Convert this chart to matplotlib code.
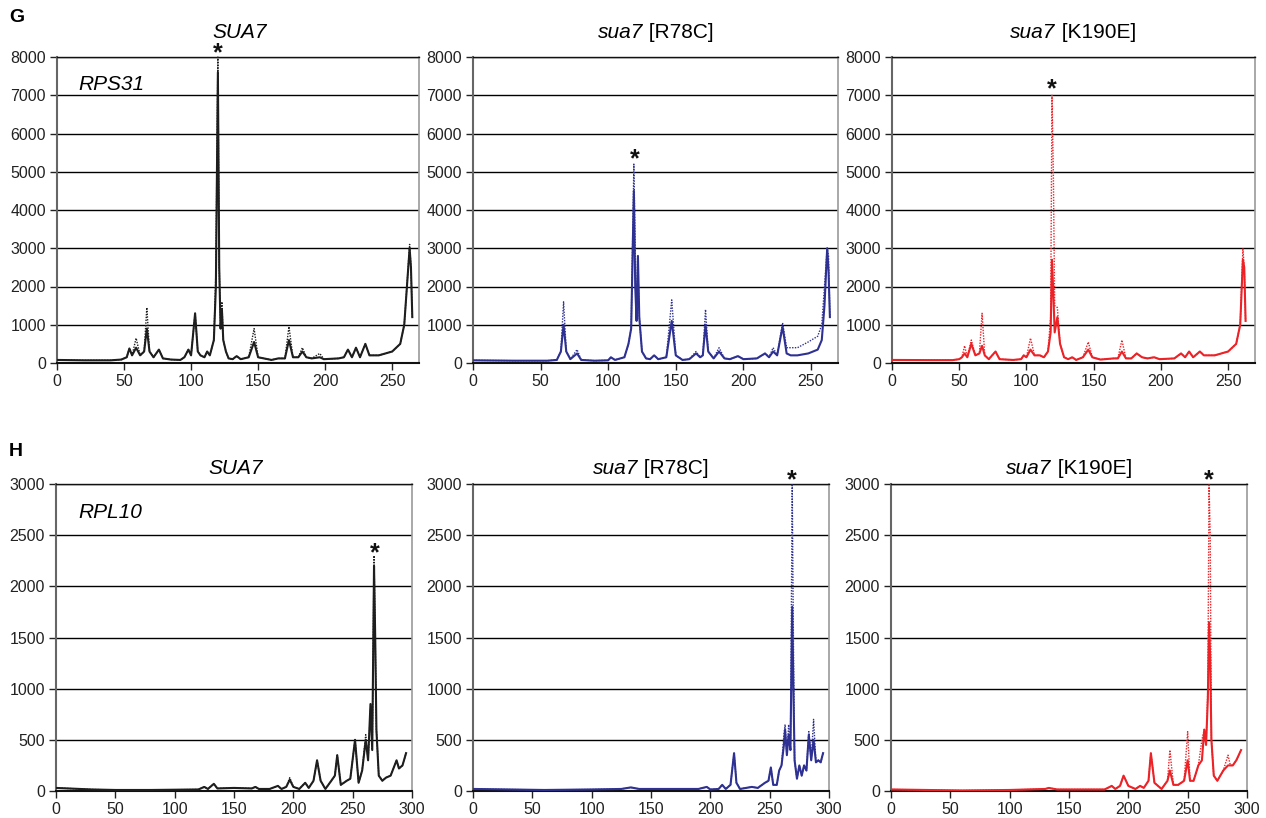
import matplotlib
matplotlib.use("Agg")
import matplotlib.pyplot as plt

plt.rcParams['font.family'] = ['Liberation Sans', 'DejaVu Sans']

# ---------------- data ----------------
# Row G : RPS31
g_sua7_x = [0, 20, 40, 48, 52, 54, 56, 59, 62, 65, 67, 69, 72, 76, 79, 85, 92, 95, 98, 100,
            103, 105, 107, 110, 112, 114, 117, 118.5, 120, 121, 122, 123, 124, 126, 128, 131, 134, 137, 143, 147,
            150, 160, 165, 170, 173, 176, 180, 183, 186, 190, 196, 199, 210, 214, 217, 220, 223, 226, 230, 233,
            240, 250, 256, 259, 261, 263, 264, 265]
g_sua7_solid = [80, 70, 70, 90, 150, 380, 200, 400, 200, 300, 900, 300, 150, 350, 120, 90, 80, 150, 350, 200,
                1300, 300, 200, 150, 300, 200, 600, 2000, 7600, 2500, 900, 1400, 600, 300, 120, 100, 180, 100, 150, 550,
                150, 80, 120, 120, 600, 150, 150, 300, 150, 120, 150, 100, 120, 150, 350, 150, 400, 150, 500, 200,
                200, 300, 500, 1000, 2000, 3000, 2500, 1200]
g_sua7_dotted = [80, 70, 70, 90, 150, 380, 200, 650, 200, 300, 1450, 300, 150, 350, 120, 90, 80, 150, 350, 200,
                 1300, 300, 200, 150, 300, 200, 600, 2400, 8000, 2500, 900, 1600, 600, 300, 120, 100, 180, 100, 150, 900,
                 150, 80, 120, 120, 950, 150, 150, 400, 150, 120, 250, 100, 120, 150, 350, 150, 400, 150, 500, 200,
                 200, 300, 500, 1000, 2000, 3100, 2500, 1200]

g_r78c_x = [0, 30, 55, 62, 65, 67, 69, 72, 77, 80, 90, 100, 102, 105, 112, 115, 117, 119, 120, 121,
            122, 123, 125, 128, 131, 134, 137, 143, 147, 150, 155, 160, 165, 168, 170, 172, 174, 178, 182, 186,
            190, 196, 200, 210, 216, 219, 222, 225, 229, 232, 235, 240, 248, 255, 258, 260, 262, 263, 264]
g_r78c_solid = [70, 60, 60, 80, 300, 1000, 300, 100, 250, 80, 60, 70, 150, 80, 150, 500, 900, 4500, 2000, 1100,
                2800, 1200, 300, 120, 100, 200, 100, 150, 1100, 200, 80, 100, 250, 150, 200, 1000, 300, 120, 300, 120,
                100, 180, 100, 120, 250, 150, 300, 200, 950, 250, 200, 200, 250, 350, 600, 1500, 3000, 2400, 1200]
g_r78c_dotted = [70, 60, 60, 80, 300, 1600, 300, 100, 350, 80, 60, 70, 150, 80, 150, 500, 900, 5200, 3000, 1100,
                 2500, 1200, 300, 120, 100, 200, 100, 150, 1650, 200, 80, 100, 300, 150, 200, 1400, 300, 120, 400, 120,
                 100, 180, 100, 120, 250, 150, 400, 200, 1050, 400, 400, 400, 550, 700, 1000, 2000, 3000, 2800, 1200]

g_k190e_x = [0, 30, 45, 50, 52, 54, 56, 59, 62, 65, 67, 69, 72, 77, 80, 90, 96, 98, 100, 103,
             106, 110, 113, 116, 118, 119, 120, 121, 123, 125, 128, 131, 134, 137, 142, 146, 149, 155, 165, 168,
             171, 174, 178, 182, 186, 190, 195, 199, 210, 215, 218, 221, 224, 229, 232, 240, 250, 256, 259, 261,
             262, 263]
g_k190e_solid = [80, 75, 75, 100, 150, 250, 150, 500, 200, 250, 450, 200, 100, 300, 100, 80, 100, 200, 150, 350,
                 200, 200, 150, 300, 800, 2700, 1800, 800, 1200, 500, 150, 100, 150, 80, 150, 350, 150, 90, 120, 120,
                 300, 120, 120, 250, 150, 120, 150, 100, 120, 250, 150, 300, 150, 300, 200, 200, 300, 500, 1000, 2700,
                 2500, 1100]
g_k190e_dotted = [80, 75, 75, 100, 150, 450, 150, 600, 200, 250, 1300, 200, 100, 300, 100, 80, 100, 200, 150, 650,
                  200, 200, 150, 300, 1200, 7000, 5000, 1500, 1450, 500, 150, 100, 150, 80, 150, 550, 150, 90, 120, 120,
                  600, 120, 120, 250, 150, 120, 150, 100, 120, 250, 150, 300, 150, 300, 200, 200, 300, 500, 1000, 3000,
                  2500, 1100]

# Row H : RPL10
h_sua7_x = [0, 10, 30, 50, 80, 120, 125, 128, 133, 136, 150, 165, 168, 171, 180, 187, 190, 194, 197, 200,
            205, 210, 213, 217, 220, 223, 227, 232, 235, 237, 240, 245, 248, 252, 255, 258, 261, 263, 265, 266.5,
            268, 269, 270, 272, 275, 278, 282, 287, 289, 292, 295]
h_sua7_solid = [30, 25, 15, 10, 10, 15, 40, 20, 70, 25, 30, 25, 40, 20, 20, 50, 20, 40, 110, 40,
                20, 80, 30, 100, 300, 100, 20, 100, 150, 350, 60, 100, 120, 500, 80, 200, 500, 300, 850, 400,
                2200, 1500, 600, 150, 100, 130, 150, 300, 220, 250, 370]
h_sua7_dotted = [30, 25, 15, 10, 10, 15, 40, 20, 70, 25, 30, 25, 40, 20, 20, 50, 20, 40, 130, 40,
                 20, 80, 30, 100, 300, 100, 20, 100, 150, 350, 60, 100, 120, 500, 80, 200, 550, 300, 800, 400,
                 2300, 1500, 600, 150, 100, 130, 150, 300, 220, 250, 370]

h_r78c_x = [0, 30, 60, 100, 125, 133, 140, 190, 197, 200, 207, 210, 213, 217, 220, 222, 225, 235, 240, 246,
            249, 251, 253, 256, 258, 260, 262, 263, 264.5, 266, 267.5, 269, 270, 271, 273, 275, 277, 279, 281, 283,
            285, 287, 289, 291, 293, 295]
h_r78c_solid = [20, 15, 10, 15, 20, 35, 20, 20, 40, 15, 20, 60, 20, 60, 370, 80, 20, 40, 30, 80,
                100, 230, 60, 60, 200, 250, 450, 600, 350, 550, 400, 1800, 1000, 300, 120, 250, 150, 250, 200, 550,
                300, 500, 280, 300, 280, 370]
h_r78c_dotted = [20, 15, 10, 15, 20, 35, 20, 20, 40, 15, 20, 60, 20, 60, 370, 80, 20, 40, 30, 80,
                 100, 230, 60, 60, 200, 250, 550, 650, 350, 650, 400, 3000, 1500, 300, 120, 250, 150, 250, 200, 580,
                 300, 700, 280, 300, 280, 370]

h_k190e_x = [0, 30, 60, 100, 130, 133, 140, 180, 186, 189, 193, 196, 200, 206, 210, 213, 217, 219, 222, 228,
             233, 235, 238, 242, 247, 250, 252, 255, 259, 262, 264, 265.5, 267, 268, 269, 270, 272, 275, 280, 284,
             286, 288, 291, 295]
h_k190e_solid = [15, 10, 5, 10, 20, 30, 15, 15, 50, 20, 50, 150, 50, 20, 50, 30, 100, 370, 80, 20,
                 100, 200, 60, 60, 100, 300, 100, 100, 250, 300, 600, 450, 900, 1650, 1300, 500, 150, 100, 200, 250,
                 250, 250, 300, 400]
h_k190e_dotted = [15, 10, 5, 10, 20, 30, 15, 15, 50, 20, 50, 150, 50, 20, 50, 30, 100, 370, 80, 20,
                  100, 400, 60, 60, 100, 580, 100, 100, 250, 500, 600, 450, 1000, 3000, 2500, 500, 150, 100, 200, 350,
                  250, 250, 300, 400]

g_yticks = [0, 1000, 2000, 3000, 4000, 5000, 6000, 7000, 8000]
h_yticks = [0, 500, 1000, 1500, 2000, 2500, 3000]
g_xticks = [0, 50, 100, 150, 200, 250]
h_xticks = [0, 50, 100, 150, 200, 250, 300]

BLACK = '#1e1e1e'
BLUE = '#2e3192'
RED = '#ec2227'

W, H = 1266, 818
fig = plt.figure(figsize=(W / 100, H / 100), dpi=100)


def rect(x0, yt, x1, yb):
    return [x0 / W, 1 - yb / H, (x1 - x0) / W, (yb - yt) / H]


panels = [
    # rect, x, solid, dotted, color, xlim, yticks, xticks, asterisk centre (data)
    (rect(57, 57, 419, 363), g_sua7_x, g_sua7_solid, g_sua7_dotted, BLACK, 270, g_yticks, g_xticks, (120, 8260)),
    (rect(473, 57, 838, 363), g_r78c_x, g_r78c_solid, g_r78c_dotted, BLUE, 270, g_yticks, g_xticks, (119.5, 5490)),
    (rect(892, 57, 1255, 363), g_k190e_x, g_k190e_solid, g_k190e_dotted, RED, 270, g_yticks, g_xticks, (119, 7320)),
    (rect(56, 484, 412, 791), h_sua7_x, h_sua7_solid, h_sua7_dotted, BLACK, 300, h_yticks, h_xticks, (269, 2384)),
    (rect(473, 484, 829, 791), h_r78c_x, h_r78c_solid, h_r78c_dotted, BLUE, 300, h_yticks, h_xticks, (268.5, 3098)),
    (rect(891, 484, 1247, 791), h_k190e_x, h_k190e_solid, h_k190e_dotted, RED, 300, h_yticks, h_xticks, (267.5, 3098)),
]

axes = []
for r, xs, ys, yd, col, xmax, yt, xt, star in panels:
    ax = fig.add_axes(r)
    ax.plot(xs, yd, color=col, lw=1.0, ls=(0, (1, 1)), clip_on=False, zorder=3)
    ax.plot(xs, ys, color=col, lw=1.5, zorder=4)
    ax.set_xlim(0, xmax)
    ax.set_ylim(0, yt[-1])
    ax.set_yticks(yt)
    ax.set_xticks(xt)
    ax.yaxis.grid(True, color='black', lw=1.0)
    ax.set_axisbelow(True)
    ax.tick_params(axis='both', direction='out', length=5, width=1, labelsize=11.5,
                   colors='#222222', pad=3)
    for s in ['left', 'bottom']:
        ax.spines[s].set_linewidth(1.5)
    ax.spines['left'].set_color('#666666')
    ax.spines['bottom'].set_color('#111111')
    ax.spines['right'].set_color('#999999')
    ax.spines['right'].set_linewidth(1.2)
    ax.spines['top'].set_color('#111111')
    ax.spines['top'].set_linewidth(1.0)
    # asterisk: glyph centre at 'star'; baseline sits ~13 px below glyph centre
    ax.annotate('*', xy=star, xytext=(0, -9.4), textcoords='offset points',
                ha='center', va='baseline', fontsize=18, fontweight='bold',
                color='#111111', annotation_clip=False)
    axes.append(ax)

renderer = fig.canvas.get_renderer()


def mixed_title(xc, yc, it_part, rm_part):
    t1 = fig.text(0, 1 - yc / H, it_part, style='italic', fontsize=15, ha='left', va='center')
    if not rm_part:
        t1.set_x(xc / W)
        t1.set_ha('center')
        return
    t2 = fig.text(0, 1 - yc / H, rm_part, fontsize=15, ha='left', va='center')
    w1 = t1.get_window_extent(renderer).width
    w2 = t2.get_window_extent(renderer).width
    start = xc - (w1 + w2) / 2
    t1.set_x(start / W)
    t2.set_x((start + w1) / W)


# Titles
mixed_title(240, 32, 'SUA7', '')
mixed_title(656, 32, 'sua7', ' [R78C]')
mixed_title(1073, 32, 'sua7', ' [K190E]')
mixed_title(236, 468, 'SUA7', '')
mixed_title(651, 468, 'sua7', ' [R78C]')
mixed_title(1069, 468, 'sua7', ' [K190E]')

# Gene labels
fig.text(78 / W, 1 - 84 / H, 'RPS31', ha='left', va='center', fontsize=15, style='italic')
fig.text(78 / W, 1 - 513 / H, 'RPL10', ha='left', va='center', fontsize=15, style='italic')

# Panel letters
fig.text(9 / W, 1 - 18 / H, 'G', ha='left', va='center', fontsize=14, fontweight='bold')
fig.text(9 / W, 1 - 452 / H, 'H', ha='left', va='center', fontsize=14, fontweight='bold')

fig.savefig('out.png', dpi=100, facecolor='white')
